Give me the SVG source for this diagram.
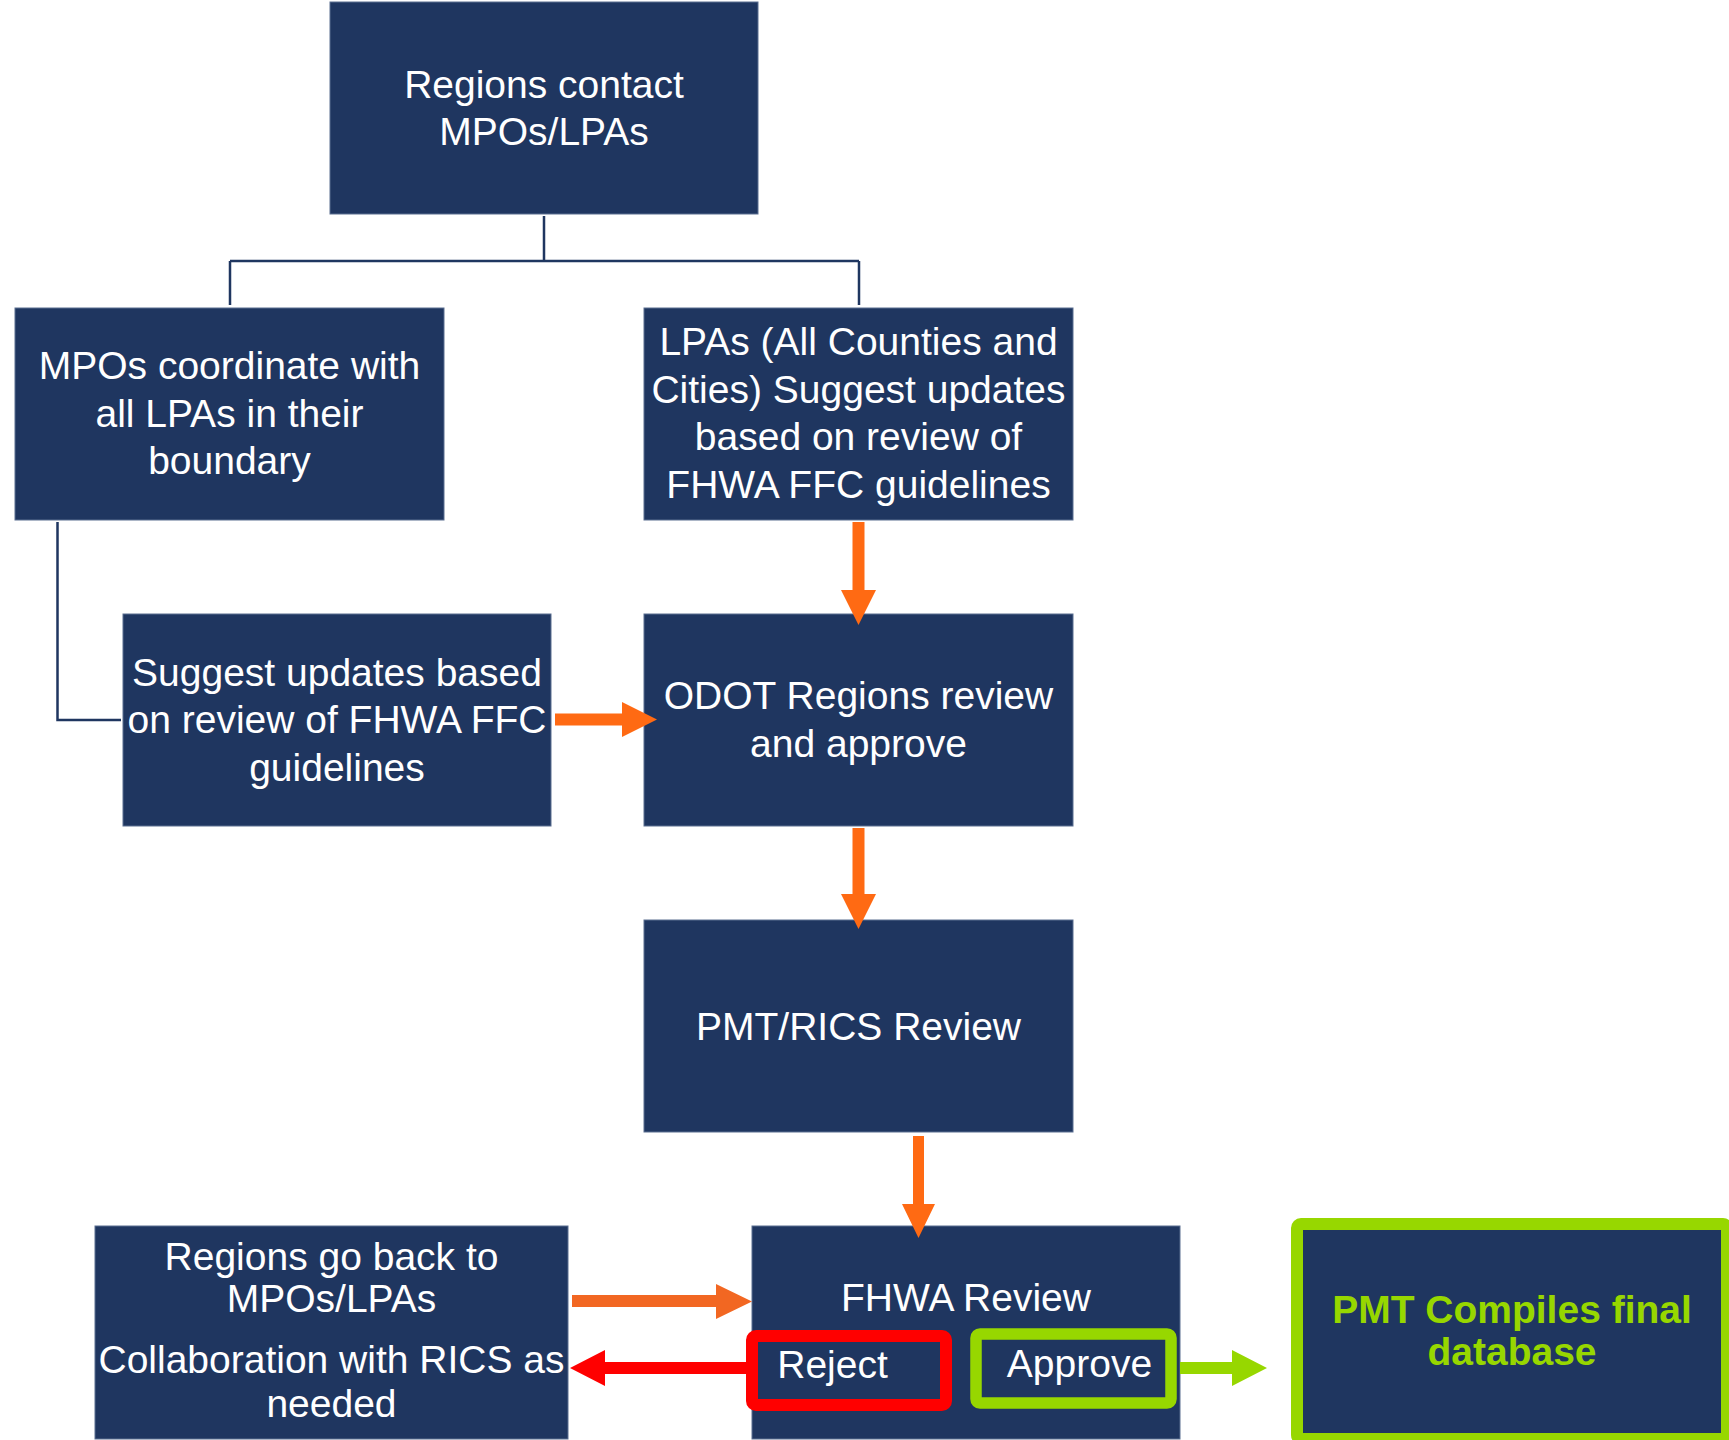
<svg xmlns="http://www.w3.org/2000/svg" width="1729" height="1440" viewBox="0 0 1729 1440">
<style>
.box{fill:#1F3660;stroke:#5A6E90;stroke-width:1}
.t{font-family:"Liberation Sans",Arial,sans-serif;font-size:39px;fill:#FFFFFF;text-anchor:middle}
.g{font-family:"Liberation Sans",Arial,sans-serif;font-size:39px;font-weight:bold;fill:#97D700;text-anchor:middle}
.tree{fill:none;stroke:#1F3660;stroke-width:2.5}
</style>
<rect width="1729" height="1440" fill="#FFFFFF"/>
<g id="n-regions-contact">
<rect class="box" x="330" y="2" width="428" height="212"/>
<text class="t" x="544" y="98">Regions contact</text>
<text class="t" x="544" y="145">MPOs/LPAs</text>
</g>
<g id="n-mpos">
<rect class="box" x="15" y="308" width="429" height="212"/>
<text class="t" x="229.5" y="379">MPOs coordinate with</text>
<text class="t" x="229.5" y="427">all LPAs in their</text>
<text class="t" x="229.5" y="474">boundary</text>
</g>
<g id="n-lpas">
<rect class="box" x="644" y="308" width="429" height="212"/>
<text class="t" x="858.5" y="355">LPAs (All Counties and</text>
<text class="t" x="858.5" y="403">Cities) Suggest updates</text>
<text class="t" x="858.5" y="450">based on review of</text>
<text class="t" x="858.5" y="498">FHWA FFC guidelines</text>
</g>
<g id="n-suggest">
<rect class="box" x="123" y="614" width="428" height="212"/>
<text class="t" x="337" y="686">Suggest updates based</text>
<text class="t" x="337" y="733">on review of FHWA FFC</text>
<text class="t" x="337" y="781">guidelines</text>
</g>
<g id="n-odot">
<rect class="box" x="644" y="614" width="429" height="212"/>
<text class="t" x="858.5" y="709">ODOT Regions review</text>
<text class="t" x="858.5" y="757">and approve</text>
</g>
<g id="n-pmt-rics">
<rect class="box" x="644" y="920" width="429" height="212"/>
<text class="t" x="858.5" y="1040">PMT/RICS Review</text>
</g>
<g id="n-regions-back">
<rect class="box" x="95" y="1226" width="473" height="213"/>
<text class="t" x="331.5" y="1270">Regions go back to</text>
<text class="t" x="331.5" y="1312">MPOs/LPAs</text>
<text class="t" x="331.5" y="1373">Collaboration with RICS as</text>
<text class="t" x="331.5" y="1417">needed</text>
</g>
<g id="n-fhwa">
<rect class="box" x="752" y="1226" width="428" height="213"/>
<text class="t" x="966" y="1311">FHWA Review</text>
<rect x="752" y="1336" width="194" height="69" rx="4" fill="#1F3660" stroke="#FF0000" stroke-width="12"/>
<text class="t" x="832.5" y="1378">Reject</text>
<rect x="976" y="1334" width="195" height="69" rx="4" fill="#1F3660" stroke="#97D700" stroke-width="11.5"/>
<text class="t" x="1079.5" y="1377">Approve</text>
</g>
<g id="n-pmt-final">
<rect x="1297" y="1224" width="430" height="215" rx="4" fill="#1F3660" stroke="#97D700" stroke-width="12"/>
<text class="g" x="1512" y="1323">PMT Compiles final</text>
<text class="g" x="1512" y="1365">database</text>
</g>
<g id="connectors">
<path class="tree" d="M544,216 V261 M230,261 H859 M230,261 V305 M859,261 V305"/>
<path class="tree" d="M57.5,522 V720 H121"/>
<polygon fill="#FF6A13" points="852.5,522 864.5,522 864.5,590 876,590 858.5,625 841,590 852.5,590"/>
<polygon fill="#FF6A13" points="852.5,828 864.5,828 864.5,894 876,894 858.5,929 841,894 852.5,894"/>
<polygon fill="#FF6A13" points="555,713.5 622,713.5 622,702 657,719.5 622,737 622,725.5 555,725.5"/>
<polygon fill="#FF6A13" points="913,1136 924,1136 924,1204 935,1204 918.5,1238 902,1204 913,1204"/>
<polygon fill="#F26722" points="572,1295 716,1295 716,1284 752,1301.5 716,1319 716,1307 572,1307"/>
<polygon fill="#FF0000" points="748,1362 605,1362 605,1350 570,1368 605,1386 605,1374 748,1374"/>
<polygon fill="#97D700" points="1180,1362 1232,1362 1232,1350 1267,1368 1232,1386 1232,1374 1180,1374"/>
</g>
</svg>
